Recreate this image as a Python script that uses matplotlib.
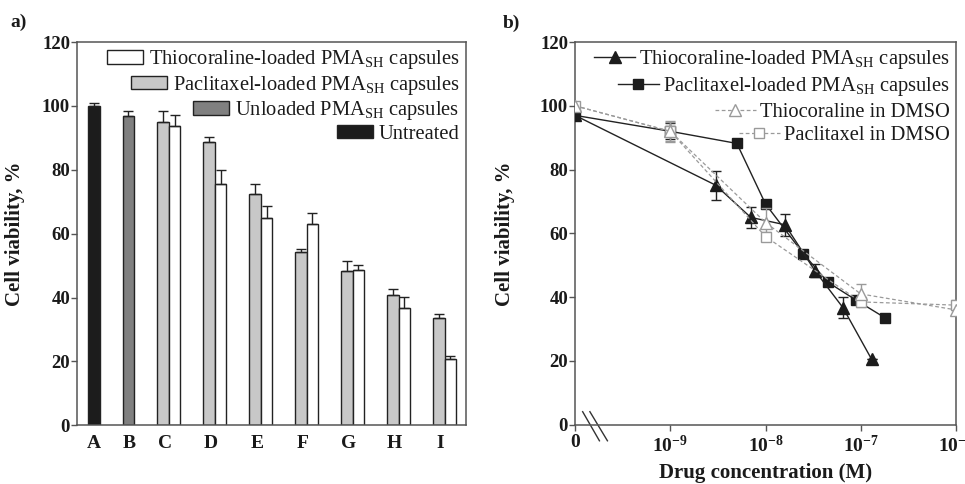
import matplotlib
matplotlib.use('Agg')
import matplotlib.pyplot as plt
import numpy as np
from matplotlib.patches import Patch
from matplotlib.lines import Line2D

plt.rcParams['font.family'] = 'Liberation Serif'
plt.rcParams['mathtext.fontset'] = 'custom'
plt.rcParams['mathtext.rm'] = 'Liberation Serif'
plt.rcParams['mathtext.it'] = 'Liberation Serif:italic'
plt.rcParams['mathtext.bf'] = 'Liberation Serif:bold'

# ---- panel a data ----
categories = ['A', 'B', 'C', 'D', 'E', 'F', 'G', 'H', 'I']
untreated = [100.0]
untreated_err = [0.8]
unloaded = [96.7]
unloaded_err = [1.6]
ptx_caps = [94.9, 88.6, 72.5, 54.2, 48.3, 40.9, 33.6]        # C..I
ptx_caps_err = [3.6, 1.6, 2.9, 0.9, 3.0, 1.8, 1.3]
thio_caps = [93.8, 75.6, 65.0, 62.9, 48.7, 36.8, 20.7]       # C..I
thio_caps_err = [3.2, 4.2, 3.8, 3.7, 1.6, 3.5, 1.0]

# ---- panel b data ----
thio_caps_conc = [0, 3e-9, 7e-9, 1.6e-8, 3.3e-8, 6.5e-8, 1.3e-7]
thio_caps_via = [97.0, 75.1, 65.0, 62.7, 48.3, 36.7, 20.5]
thio_caps_sd = [0, 4.5, 3.3, 3.5, 2.0, 3.3, 0]
ptx_caps_conc = [0, 1e-9, 5e-9, 1e-8, 2.5e-8, 4.5e-8, 9e-8, 1.8e-7]
ptx_caps_via = [97.0, 92.0, 88.2, 69.2, 53.6, 44.7, 39.0, 33.5]
ptx_caps_sd = [0, 2.5, 0, 0, 0, 0, 0, 0]
dmso_conc = [0, 1e-9, 1e-8, 1e-7, 1e-6]
thio_dmso_via = [100.0, 92.0, 63.4, 41.0, 36.0]
thio_dmso_sd = [1.0, 3.3, 4.6, 3.0, 1.5]
ptx_dmso_via = [100.0, 92.0, 59.0, 38.5, 37.5]
ptx_dmso_sd = [1.0, 3.0, 1.5, 1.5, 1.5]

xtick_pos = [1e-10, 1e-9, 1e-8, 1e-7, 1e-6]
xtick_labels = ['0', r'$\mathbf{10^{-9}}$', r'$\mathbf{10^{-8}}$',
                r'$\mathbf{10^{-7}}$', r'$\mathbf{10^{-6}}$']

SPINE = '#555555'
TXT = '#1a1a1a'
LEG_FS = 14.8
TICK_FS = 13.5
LAB_FS = 15


def style_axes(ax):
    for s in ax.spines.values():
        s.set_color(SPINE)
        s.set_linewidth(1.1)
    ax.set_ylim(0, 120)
    ax.set_yticks(np.arange(0, 121, 20))
    ax.tick_params(axis='y', direction='out', length=4, width=1, color=SPINE,
                   pad=1, labelsize=TICK_FS, labelcolor=TXT)
    for lb in ax.get_yticklabels():
        lb.set_fontweight('bold')


fig = plt.figure(figsize=(9.65, 4.84), dpi=100)
ax1 = fig.add_axes([0.0798, 0.1213, 0.4028, 0.7919])
ax2 = fig.add_axes([0.5959, 0.1225, 0.3948, 0.7907])

# ---------------- panel a ----------------
w = 0.25
ax1.bar([0.37], untreated, w, color='#1c1c1c', edgecolor='#222', lw=1, zorder=2)
ax1.bar([1.12], unloaded, w, color='#808080', edgecolor='#222', lw=1, zorder=2)
grp = np.arange(2, 9)
ax1.bar(grp - w / 2, ptx_caps, w, color='#c8c8c8', edgecolor='#222', lw=1, zorder=2)
ax1.bar(grp + w / 2, thio_caps, w, color='white', edgecolor='#222', lw=1, zorder=2)
ekw = dict(fmt='none', ecolor='#222', elinewidth=1, capsize=3.5, capthick=1, zorder=3)
ax1.errorbar([0.37], untreated, yerr=[[0], untreated_err], **ekw)
ax1.errorbar([1.12], unloaded, yerr=[[0], unloaded_err], **ekw)
ax1.errorbar(grp - w / 2, ptx_caps, yerr=[np.zeros(7), ptx_caps_err], **ekw)
ax1.errorbar(grp + w / 2, thio_caps, yerr=[np.zeros(7), thio_caps_err], **ekw)

ax1.set_xlim(0, 8.46)
style_axes(ax1)
ax1.set_xticks(np.r_[0.37, 1.14, grp - 0.09])
ax1.set_xticklabels(categories, fontsize=14, fontweight='bold', color=TXT)
ax1.tick_params(axis='x', length=0, pad=7)
ax1.set_ylabel('Cell viability, %', fontsize=LAB_FS, fontweight='bold', color=TXT)
ax1.yaxis.set_label_coords(-0.134, 0.5)

h1 = [Patch(facecolor='white', edgecolor='#222', lw=1),
      Patch(facecolor='#c8c8c8', edgecolor='#222', lw=1),
      Patch(facecolor='#808080', edgecolor='#222', lw=1),
      Patch(facecolor='#1c1c1c', edgecolor='#222', lw=1)]
l1 = ['Thiocoraline-loaded PMA$_{\\mathrm{SH}}$ capsules',
      'Paclitaxel-loaded PMA$_{\\mathrm{SH}}$ capsules',
      'Unloaded PMA$_{\\mathrm{SH}}$ capsules',
      'Untreated']
leg1 = ax1.legend(h1, l1, loc='upper right', frameon=False, fontsize=LEG_FS,
                  handlelength=1.75, handleheight=0.65, handletextpad=0.3,
                  labelspacing=0.12, borderpad=0.0, borderaxespad=0.3)
for col in leg1._legend_handle_box.get_children():
    col.align = 'right'
for t in leg1.get_texts():
    t.set_color(TXT)

# ---------------- panel b ----------------
def zx(c):
    c = np.asarray(c, dtype=float)
    return np.where(c == 0, 1e-10, c)

grey = '#9a9a9a'
ax2.errorbar(zx(ptx_caps_conc), ptx_caps_via, yerr=ptx_caps_sd, color='#222',
             lw=1.0, marker='s', ms=7.5, mfc='#1c1c1c', mec='#1c1c1c',
             capsize=3.5, elinewidth=1, zorder=3)
ax2.errorbar(zx(thio_caps_conc), thio_caps_via, yerr=thio_caps_sd, color='#222',
             lw=1.0, marker='^', ms=8.5, mfc='#1c1c1c', mec='#1c1c1c',
             capsize=3.5, elinewidth=1, zorder=3)
ax2.errorbar(zx(dmso_conc), ptx_dmso_via, yerr=ptx_dmso_sd, color=grey,
             lw=0.9, ls=(0, (3, 2)), marker='s', ms=7.5, mfc='white', mec=grey,
             capsize=3.5, elinewidth=1, zorder=4)
ax2.errorbar(zx(dmso_conc), thio_dmso_via, yerr=thio_dmso_sd, color=grey,
             lw=0.9, ls=(0, (3, 2)), marker='^', ms=8, mfc='white', mec=grey,
             capsize=3.5, elinewidth=1, zorder=4)

ax2.set_xscale('log')
ax2.set_xlim(1e-10, 1e-6)
ax2.xaxis.set_minor_locator(matplotlib.ticker.NullLocator())
ax2.set_xticks(xtick_pos)
ax2.set_xticklabels(xtick_labels, fontsize=14, fontweight='bold', color=TXT)
ax2.tick_params(axis='x', direction='out', length=4, width=1, color=SPINE, pad=3)
style_axes(ax2)
ax2.set_ylabel('Cell viability, %', fontsize=LAB_FS, fontweight='bold', color=TXT)
ax2.yaxis.set_label_coords(-0.157, 0.5)
ax2.set_xlabel('Drug concentration (M)', fontsize=LAB_FS, fontweight='bold', color=TXT)
ax2.xaxis.set_label_coords(0.5, -0.1)

# axis break marks
for x0, x1 in [(0.020, 0.064), (0.039, 0.085)]:
    ax2.plot([x0, x1], [0.034, -0.042], transform=ax2.transAxes, color='#333',
             lw=1, clip_on=False)

h2 = [Line2D([], [], color='#222', lw=1, marker='^', ms=8.5, mfc='#1c1c1c', mec='#1c1c1c'),
      Line2D([], [], color='#222', lw=1, marker='s', ms=7.5, mfc='#1c1c1c', mec='#1c1c1c'),
      Line2D([], [], color=grey, lw=0.9, ls=(0, (3, 2)), marker='^', ms=8, mfc='white', mec=grey),
      Line2D([], [], color=grey, lw=0.9, ls=(0, (3, 2)), marker='s', ms=7.5, mfc='white', mec=grey)]
l2 = ['Thiocoraline-loaded PMA$_{\\mathrm{SH}}$ capsules',
      'Paclitaxel-loaded PMA$_{\\mathrm{SH}}$ capsules',
      'Thiocoraline in DMSO',
      'Paclitaxel in DMSO']
leg2 = ax2.legend(h2, l2, loc='upper right', frameon=False, fontsize=LEG_FS,
                  handlelength=2.0, handletextpad=0.2, labelspacing=0.2,
                  borderpad=0.0, borderaxespad=0.3)
for col in leg2._legend_handle_box.get_children():
    col.align = 'right'
for t in leg2.get_texts():
    t.set_color(TXT)

fig.text(19 / 965, 1 - 22 / 484, 'a)', fontsize=14, fontweight='bold',
         ha='center', va='center', color=TXT)
fig.text(511 / 965, 1 - 23 / 484, 'b)', fontsize=14, fontweight='bold',
         ha='center', va='center', color=TXT)

fig.savefig('out.png', dpi=100)
